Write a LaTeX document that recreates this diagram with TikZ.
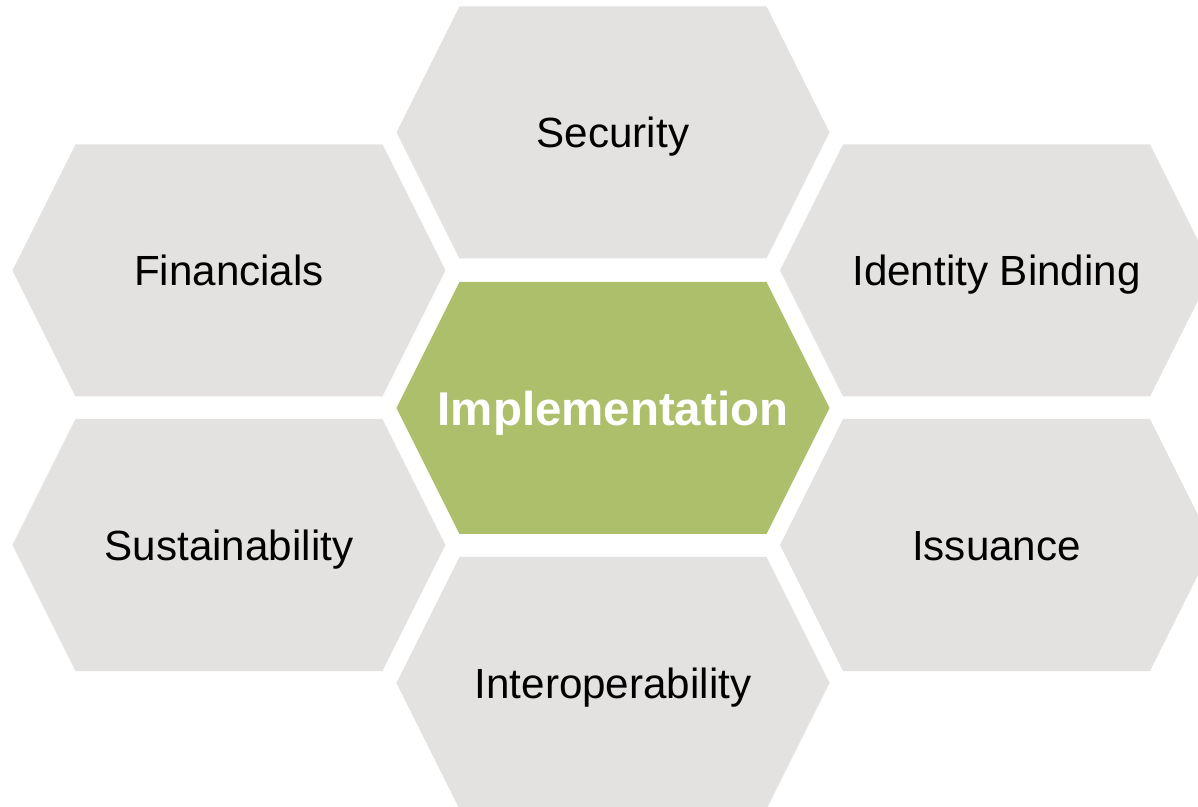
\documentclass[tikz,border=0pt]{standalone}
\usepackage{fontspec}
\setmainfont{Liberation Sans}
\definecolor{hexgrey}{HTML}{E3E2E1}
\definecolor{hexgreen}{HTML}{ADBF6B}
\tikzset{
  hexlabel/.style={inner sep=0pt, text height=17.2pt, text depth=0pt, font=\fontsize{24}{28}\selectfont},
  corelabel/.style={inner sep=0pt, text height=19.4pt, text depth=0pt, text=white, font=\fontsize{27}{32}\selectfont\bfseries}
}
\begin{document}
\begin{tikzpicture}
\useasboundingbox (-12.26,-7.98) rectangle (11.70,8.16);
\foreach \x/\y/\c in {0/0/hexgreen,0/5.51/hexgrey,0/-5.5/hexgrey,-7.68/2.75/hexgrey,7.67/2.75/hexgrey,-7.68/-2.74/hexgrey,7.67/-2.74/hexgrey} {
\fill[\c] (\x-4.33,\y) -- (\x-3.07,\y+2.52) -- (\x+3.07,\y+2.52) -- (\x+4.33,\y) -- (\x+3.07,\y-2.52) -- (\x-3.07,\y-2.52) -- cycle;
}
\node[corelabel] (impl) at (0,0) {Implementation};
\node[hexlabel] (sec) at (0,5.51) {Security};
\node[hexlabel] (interop) at (0,-5.5) {Interoperability};
\node[hexlabel] (fin) at (-7.68,2.75) {Financials};
\node[hexlabel] (ident) at (7.67,2.75) {Identity Binding};
\node[hexlabel] (sust) at (-7.68,-2.74) {Sustainability};
\node[hexlabel] (iss) at (7.67,-2.74) {Issuance};
\end{tikzpicture}
\end{document}
